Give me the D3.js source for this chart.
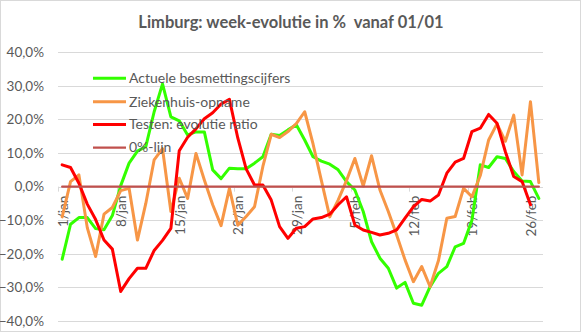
<!DOCTYPE html>
<html>
<head>
<meta charset="utf-8">
<script src="https://cdn.jsdelivr.net/npm/d3@7"></script>
<style>
  html, body { margin: 0; padding: 0; background: #fff; }
  svg { display: block; }
</style>
</head>
<body>
<svg id="chart" width="581" height="332"></svg>
<script>
const categories = [
  "1/jan","2/jan","3/jan","4/jan","5/jan","6/jan","7/jan","8/jan","9/jan","10/jan",
  "11/jan","12/jan","13/jan","14/jan","15/jan","16/jan","17/jan","18/jan","19/jan","20/jan",
  "21/jan","22/jan","23/jan","24/jan","25/jan","26/jan","27/jan","28/jan","29/jan","30/jan",
  "31/jan","1/feb","2/feb","3/feb","4/feb","5/feb","6/feb","7/feb","8/feb","9/feb",
  "10/feb","11/feb","12/feb","13/feb","14/feb","15/feb","16/feb","17/feb","18/feb","19/feb",
  "20/feb","21/feb","22/feb","23/feb","24/feb","25/feb","26/feb","27/feb"
];
const tickLabels = ["1/jan","8/jan","15/jan","22/jan","29/jan","5/feb","12/feb","19/feb","26/feb"];
const yTicks = [-40,-30,-20,-10,0,10,20,30,40];

const besmettingen = [
  -21.6,-11.2,-9.2,-9.2,-12.5,-12.8,-8.6,0.3,7.0,10.6,
  11.9,22.3,30.6,20.8,19.6,15.4,16.3,16.3,5.0,2.4,
  5.5,5.3,5.3,7.0,8.9,15.6,15.2,16.9,18.4,13.9,
  8.9,7.6,6.7,5.0,1.5,-1.0,-7.4,-16.4,-21.3,-24.3,
  -30.2,-28.5,-34.7,-35.3,-29.8,-25.8,-23.8,-17.9,-16.9,-10.0,
  6.5,5.7,8.9,8.4,4.5,1.7,1.5,-3.5
];
const ziekenhuis = [
  -9.0,1.5,3.5,-12.2,-20.8,-8.2,-6.2,-1.2,-0.5,-15.9,
  -5.0,8.0,11.3,-7.4,2.5,-3.5,9.9,2.0,-5.4,-11.6,
  -0.5,-11.5,-8.9,-6.0,6.0,15.6,14.6,16.4,18.8,22.3,
  12.7,1.8,-9.0,-4.0,1.8,8.4,0.2,9.2,-1.0,-7.4,
  -14.4,-21.8,-28.3,-23.8,-29.8,-22.0,-9.4,-8.9,-0.5,-3.0,
  3.3,13.9,18.7,13.5,21.3,3.5,25.3,1.2
];
const testen = [
  6.5,5.7,1.0,-5.2,-9.8,-15.9,-18.6,-31.2,-27.4,-24.3,
  -24.3,-19.0,-16.0,-12.4,10.7,14.7,17.2,20.2,22.0,24.6,
  26.0,14.5,5.3,0.5,0.5,-4.0,-11.9,-15.4,-12.4,-11.9,
  -9.6,-9.2,-8.2,-5.4,-3.0,-11.4,-12.9,-13.6,-14.4,-13.9,
  -12.9,-9.4,-6.0,-3.8,-4.3,-2.5,4.0,7.3,8.4,16.4,
  17.4,21.5,18.9,10.4,3.0,1.5,-5.4
];
const nulLijn = categories.map(() => 0);

const seriesNames = ["Actuele besmettingscijfers","Ziekenhuis-opname","Testen: evolutie ratio","0%-lijn"];
const seriesColors = ["#33ff00","#f79646","#ff0000","#c0504d"];
const seriesWidths = [3,3,3,2.25];
const seriesData = [besmettingen, ziekenhuis, testen, nulLijn];

const svg = d3.select("#chart");
const font = "Lato, 'Open Sans', sans-serif";
const grey = "#595959";

// chart border
svg.append("rect").attr("x",0.5).attr("y",0.5).attr("width",580).attr("height",331)
  .attr("fill","#fff").attr("stroke","#d9d9d9");

const plot = {left: 58, right: 543, top: 52.3, bottom: 321};

const x = d3.scaleBand().domain(categories).range([plot.left, plot.right]).padding(0);
const y = d3.scaleLinear().domain([-40, 40]).range([plot.bottom, plot.top]);

// title
svg.append("text").attr("x", 291).attr("y", 28).attr("text-anchor","middle")
  .attr("font-family", font).attr("font-weight","bold").attr("font-size", 16.5)
  .attr("fill", grey).style("white-space","pre")
  .text("Limburg: week-evolutie in %  vanaf 01/01");

// gridlines
svg.append("g").selectAll("line").data(yTicks).join("line")
  .attr("x1", plot.left).attr("x2", plot.right)
  .attr("y1", d => Math.round(y(d)) + 0.5).attr("y2", d => Math.round(y(d)) + 0.5)
  .attr("stroke", "#d9d9d9").attr("stroke-width", 1);

// y axis
const yAxis = d3.axisLeft(y).tickValues(yTicks).tickSize(0).tickPadding(14)
  .tickFormat(d => d3.format(".1f")(d).replace(".", ",") + "%");
const gy = svg.append("g").attr("transform", `translate(${plot.left},0)`).call(yAxis);
gy.select(".domain").remove();
gy.selectAll("text").attr("font-family", font).attr("font-size", 13.5).attr("fill", grey);

// category axis tick marks (every 7 categories, on band boundaries)
const tickIdx = d3.range(0, categories.length, 7);
svg.append("g").selectAll("line").data(tickIdx).join("line")
  .attr("x1", i => Math.round(x(categories[i])) + 0.5).attr("x2", i => Math.round(x(categories[i])) + 0.5)
  .attr("y1", y(0)).attr("y2", y(0) + 5)
  .attr("stroke", "#d9d9d9").attr("stroke-width", 1);

// x axis labels
const xAxis = d3.axisBottom(x).tickValues(tickLabels).tickSize(0);
const gx = svg.append("g").attr("transform", `translate(0,${y(0)})`).call(xAxis);
gx.select(".domain").remove();
gx.selectAll("text")
  .attr("transform", "rotate(-90)")
  .attr("text-anchor", "end")
  .attr("x", -9).attr("y", 0).attr("dy", "0.4em")
  .attr("font-family", font).attr("font-size", 13.5).attr("fill", grey);

// lines
const line = d3.line()
  .defined(d => d != null)
  .x((d, i) => x(categories[i]) + x.bandwidth() / 2)
  .y(d => y(d));

seriesData.forEach((data, k) => {
  svg.append("path").datum(data)
    .attr("d", line)
    .attr("fill", "none")
    .attr("stroke", seriesColors[k])
    .attr("stroke-width", seriesWidths[k])
    .attr("stroke-linejoin", "round")
    .attr("stroke-linecap", "round");
});

// legend
const legend = svg.append("g");
const legY = [78.3, 101.7, 124.5, 147.5];
seriesNames.forEach((name, k) => {
  legend.append("line")
    .attr("x1", 93).attr("x2", 126).attr("y1", legY[k]).attr("y2", legY[k])
    .attr("stroke", seriesColors[k]).attr("stroke-width", seriesWidths[k]);
  legend.append("text")
    .attr("x", 129).attr("y", legY[k]).attr("dy", "0.35em")
    .attr("font-family", font).attr("font-size", 14).attr("fill", grey)
    .text(name);
});
</script>
</body>
</html>
